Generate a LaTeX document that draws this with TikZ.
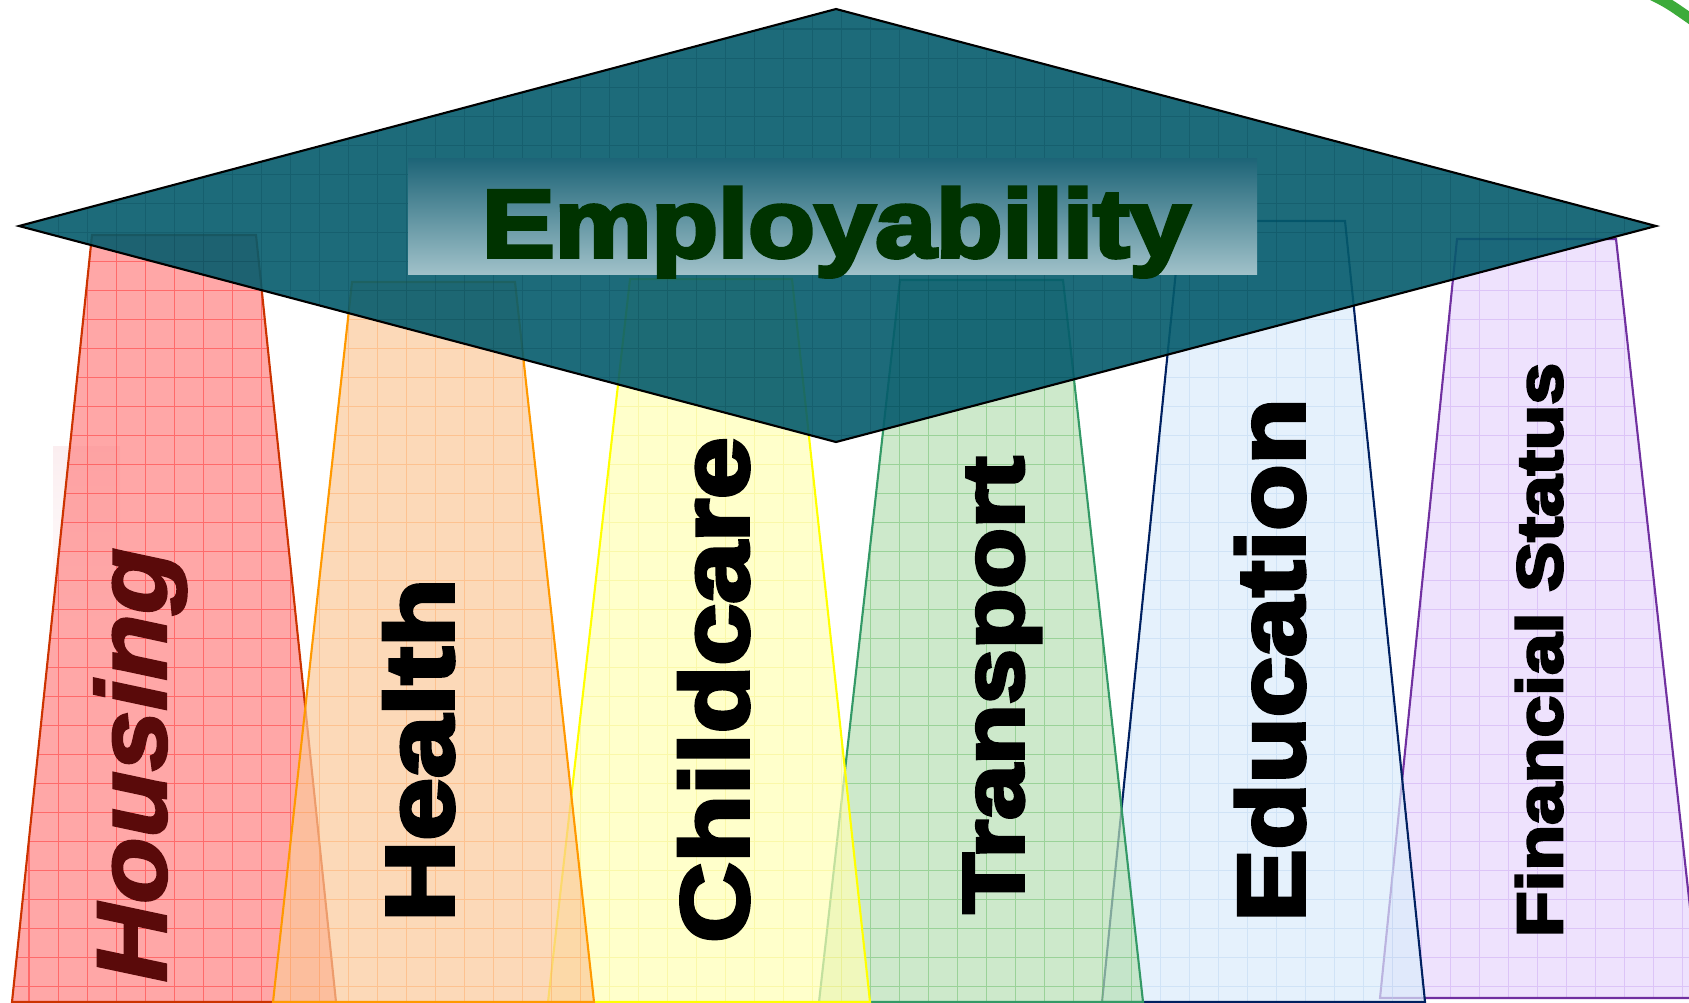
\documentclass[tikz,border=0pt]{standalone}
\usepackage{fontspec}
\setmainfont{Liberation Sans}
\newfontfamily\heavy[FakeBold=4]{Liberation Sans Bold}
\newfontfamily\heavyit[FakeBold=2.5]{Liberation Sans Bold Italic}
\definecolor{hsfill}{HTML}{FF8383}\definecolor{hsdraw}{HTML}{CC3300}\definecolor{hsgrid}{HTML}{FF2020}
\definecolor{hefill}{HTML}{FCC99A}\definecolor{hedraw}{HTML}{FF9900}\definecolor{hegrid}{HTML}{FFA860}
\definecolor{chfill}{HTML}{FFFFB6}\definecolor{chdraw}{HTML}{FFFF00}\definecolor{chgrid}{HTML}{F5F080}
\definecolor{trfill}{HTML}{B8E1B6}\definecolor{trdraw}{HTML}{339966}\definecolor{trgrid}{HTML}{5CB85C}
\definecolor{edfill}{HTML}{DBECFB}\definecolor{eddraw}{HTML}{002060}\definecolor{edgrid}{HTML}{B8D4F0}
\definecolor{fifill}{HTML}{E8D7FD}\definecolor{fidraw}{HTML}{7030A0}\definecolor{figrid}{HTML}{C8A0F0}
\definecolor{capfill}{HTML}{055B6C}\definecolor{capgrid}{HTML}{0A4A58}
\definecolor{boxtop}{HTML}{1D6477}\definecolor{boxmid}{HTML}{86ADB8}\definecolor{boxbot}{HTML}{A0C1C9}
\definecolor{empgreen}{HTML}{003300}\definecolor{housered}{HTML}{5A0A0A}
\definecolor{arcgreen}{HTML}{3CAB3A}\definecolor{faintpink}{HTML}{FBEEF0}
\newcommand\mypillar[4]{%
  \fill[#2, fill opacity=0.7] #1 -- cycle;
  \begin{scope}
    \clip #1 -- cycle;
    \draw[#4, draw opacity=0.45, line width=0.3pt, step=0.29cm] (0,0) grid (1720,1010);
  \end{scope}
  \draw[#3, pillaredge] #1 -- cycle;
}
\tikzset{
  pillaredge/.style={line width=0.6pt, line join=miter},
  biglabel/.style={inner sep=0pt, anchor=base, rotate=90, text=black},
}
\begin{document}
\begin{tikzpicture}[x=0.01cm,y=-0.01cm]
\useasboundingbox (0,0) rectangle (1689,1002);
\fill[white] (0,0) rectangle (1689,1002);
% faint background strip
\shade[top color=faintpink, bottom color=white] (53,446) rectangle (120,640);
% pillars
\mypillar{(1457,239) -- (1616,239) -- (1700,998) -- (1380,998)}{fifill}{fidraw}{figrid}
\mypillar{(1181,221) -- (1345,221) -- (1425,1002) -- (1102,1002)}{edfill}{eddraw}{edgrid}
\mypillar{(900,280) -- (1063,280) -- (1143,1002) -- (819,1002)}{trfill}{trdraw}{trgrid}
\mypillar{(630,279) -- (792,279) -- (870,1002) -- (548,1002)}{chfill}{chdraw}{chgrid}
\mypillar{(92,235) -- (256,235) -- (336,1002) -- (12,1002)}{hsfill}{hsdraw}{hsgrid}
\mypillar{(352,282) -- (515,282) -- (594,1002) -- (273,1002)}{hefill}{hedraw}{hegrid}
% mortarboard
\coordinate (ctop) at (836,9);
\coordinate (cright) at (1656,226);
\coordinate (cbot) at (836,442);
\coordinate (cleft) at (19,226);
\fill[capfill, fill opacity=0.9] (ctop) -- (cright) -- (cbot) -- (cleft) -- cycle;
\begin{scope}
  \clip (ctop) -- (cright) -- (cbot) -- (cleft) -- cycle;
  \draw[capgrid, draw opacity=0.35, line width=0.3pt, step=0.29cm] (0,0) grid (1720,1010);
\end{scope}
\draw[black, line width=0.6pt, line join=miter] (ctop) -- (cright) -- (cbot) -- (cleft) -- cycle;
% title box
\shade[top color=boxtop, middle color=boxmid, bottom color=boxbot] (408,158) rectangle (1257,274);
\node[inner sep=0pt, anchor=base, text=empgreen, xscale=1.13,
      font=\heavy\fontsize{27.4}{30}\selectfont] (emp) at (836,257) {Employability};
% pillar labels
\node[biglabel, text=housered, xscale=1.095, font=\heavyit\fontsize{28.2}{30}\selectfont] (housing) at (166,765) {Housing};
\node[biglabel, xscale=1.17, font=\heavy\fontsize{27.3}{30}\selectfont] (health) at (453,750) {Health};
\node[biglabel, xscale=1.155, font=\heavy\fontsize{27.3}{30}\selectfont] (childcare) at (748,690) {Childcare};
\node[biglabel, xscale=1.15, font=\heavy\fontsize{24.5}{28}\selectfont] (transport) at (1023,685) {Transport};
\node[biglabel, xscale=1.14, font=\heavy\fontsize{27}{30}\selectfont] (education) at (1304,660) {Education};
\node[biglabel, xscale=1.17, font=\heavy\fontsize{18.2}{20}\selectfont] (financial) at (1562,650) {Financial Status};
% green arc at corner
\draw[arcgreen, line width=3pt] (1650,-6) .. controls (1668,3) .. (1698,24);
\end{tikzpicture}
\end{document}
